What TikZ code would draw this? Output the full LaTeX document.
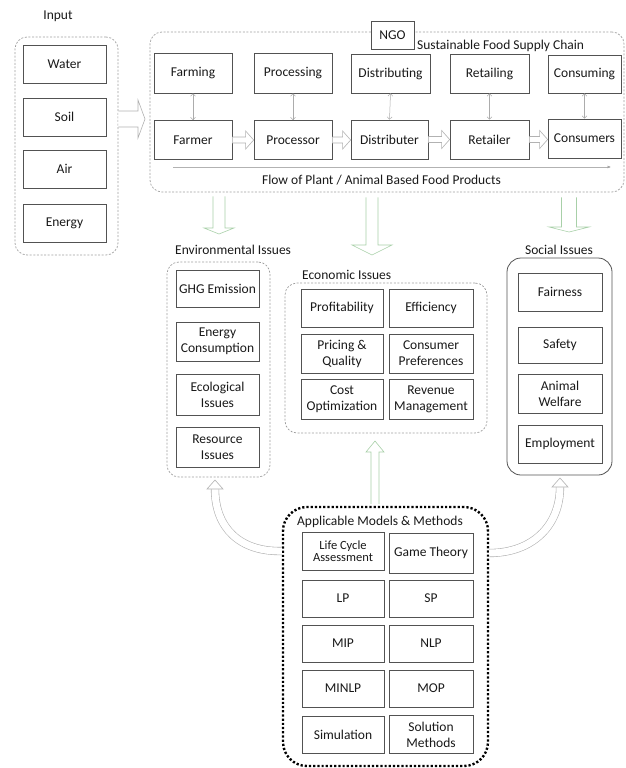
\documentclass[tikz,border=0pt]{standalone}
\usepackage{fontspec}
\setmainfont{Carlito}
\usetikzlibrary{calc,arrows.meta}

\definecolor{boxline}{gray}{0.32}
\definecolor{cont}{gray}{0.62}
\definecolor{hollowline}{gray}{0.70}
\definecolor{greenline}{RGB}{168,208,168}

% straight block arrow: style, tail, tip, shaft half width, head half width, signed offset of head base (along the arrow axis)
\newcommand\vblock[6]{%
  \draw[#1] ($(#2)+(-#4,0)$) -- ($(#3)+(-#4,#6)$) -- ($(#3)+(-#5,#6)$) -- (#3)
    -- ($(#3)+(#5,#6)$) -- ($(#3)+(#4,#6)$) -- ($(#2)+(#4,0)$);}
\newcommand\hblock[6]{%
  \draw[#1] ($(#2)+(0,-#4)$) -- ($(#3)+(#6,-#4)$) -- ($(#3)+(#6,-#5)$) -- (#3)
    -- ($(#3)+(#6,#5)$) -- ($(#3)+(#6,#4)$) -- ($(#2)+(0,#4)$);}

\tikzset{
  every node/.style={font=\fontsize{13.5}{16}\selectfont, text=black!90},
  item/.style={draw=boxline, line width=0.7pt, fill=white, inner sep=0pt, align=center,
    minimum width=83pt, minimum height=38pt},
  container/.style={draw=cont, dash pattern=on 2pt off 1.6pt, line width=0.7pt,
    rounded corners=12pt, inner sep=0pt},
  solidcont/.style={draw=boxline, line width=0.8pt, rounded corners=14pt, inner sep=0pt},
  dotcont/.style={draw=black, line width=2.4pt, dash pattern=on 2.2pt off 2pt,
    rounded corners=24pt, inner sep=0pt},
  heading/.style={inner sep=0pt},
  hollow/.style={draw=hollowline, fill=white, line width=0.6pt},
  greenhollow/.style={hollow, draw=greenline},
  link/.style={draw=gray!65, line width=0.5pt,
    {Straight Barb[length=2.5pt,width=5pt]}-{Straight Barb[length=2.5pt,width=5pt]}},
  curvearrow/.style={draw=hollowline, line width=0.6pt, double=white, double distance=7pt},
}

\begin{document}
\begin{tikzpicture}[x=1pt, y=-1pt]
\useasboundingbox (0,0) rectangle (626,768);

% ---------------- input ----------------
\node[heading] (inlabel) at (58,16) {Input};
\node[container, minimum width=103pt, minimum height=218pt] (input) at (66.5,146) {};
\node[item] (water)  at (64.5,64.5) {Water};
\node[item] (soil)   at (64.5,117) {Soil};
\node[item] (air)    at (64.5,169) {Air};
\node[item] (energy) at (64.5,223) {Energy};

% ---------------- supply chain ----------------
\node[container, minimum width=474pt, minimum height=160pt] (chain) at (387,112) {};
\node[item, minimum width=43pt, minimum height=28pt] (ngo) at (392.5,35) {NGO};
\node[heading, anchor=west] (chainlabel) at (417,46) {Sustainable Food Supply Chain};

\node[item, minimum width=78pt, minimum height=40pt] (farming)      at (193,73)   {Farming};
\node[item, minimum width=78pt, minimum height=40pt] (processing)   at (293,73)   {Processing};
\node[item, minimum width=79pt, minimum height=39pt] (distributing) at (390.5,73.5) {Distributing};
\node[item, minimum width=79pt, minimum height=39pt] (retailing)    at (489.5,73.5) {Retailing};
\node[item, minimum width=73pt, minimum height=38pt] (consuming)    at (584.5,74) {Consuming};

\node[item, minimum width=78pt, minimum height=39pt] (farmer)      at (193,140)   {Farmer};
\node[item, minimum width=78pt, minimum height=39pt] (processor)   at (293,140)   {Processor};
\node[item, minimum width=77pt, minimum height=39pt] (distributer) at (389.5,139.5) {Distributer};
\node[item, minimum width=79pt, minimum height=39pt] (retailer)    at (489.5,139.5) {Retailer};
\node[item, minimum width=73pt, minimum height=39pt] (consumers)   at (584.5,138.5) {Consumers};

\foreach \a/\b in {farming/farmer, processing/processor, distributing/distributer,
                   retailing/retailer, consuming/consumers}
  \draw[link] (\a.south) -- (\b.north);

\foreach \a/\b in {farmer/processor, processor/distributer, distributer/retailer, retailer/consumers}
  \hblock{hollow}{\a.east}{\b.west |- \a.east}{3}{9}{-8};

\coordinate (flowstart) at (173,167);
\coordinate (flowend) at (611,167);
\draw[draw=gray!60, line width=0.5pt, -{Latex[length=3.5pt,width=3pt,fill=black!70]}] (flowstart) -- (flowend);
\node[heading] (flowlabel) at (381.5,180) {Flow of Plant / Animal Based Food Products};

% input feeds the chain
\coordinate (intip) at (145,119);
\hblock{hollow}{input.east |- intip}{intip}{8}{19}{-7}

% ---------------- issue groups ----------------
\node[heading, anchor=west] (envlabel) at (175,250) {Environmental Issues};
\node[container, minimum width=103pt, minimum height=215pt] (env) at (218.5,369.5) {};
\node[item, minimum height=37pt] (ghg)      at (217.5,288.5) {GHG Emission};
\node[item, minimum height=39pt] (econs)    at (217.5,341.5) {Energy\\Consumption};
\node[item, minimum height=41pt] (ecol)     at (217.5,394.5) {Ecological\\Issues};
\node[item, minimum height=40pt] (resource) at (217.5,447)   {Resource\\Issues};

\node[heading, anchor=west] (econlabel) at (302,275) {Economic Issues};
\node[container, minimum width=202pt, minimum height=150pt] (econ) at (386,358) {};
\node[item, minimum width=82pt] (profit)  at (342,308)   {Profitability};
\node[item, minimum width=84pt] (effic)   at (431,308)   {Efficiency};
\node[item, minimum width=82pt, minimum height=39pt] (pricing) at (342,353.5) {Pricing \&\\Quality};
\node[item, minimum width=84pt, minimum height=39pt] (prefs)   at (431,353.5) {Consumer\\Preferences};
\node[item, minimum width=82pt, minimum height=40pt] (cost)    at (342,399)   {Cost\\Optimization};
\node[item, minimum width=84pt, minimum height=40pt] (revenue) at (431,399)   {Revenue\\Management};

\node[heading] (soclabel) at (559,250) {Social Issues};
\node[solidcont, minimum width=105pt, minimum height=217pt] (social) at (559.5,366.5) {};
\node[item, minimum width=84pt] (fair)   at (560,292)   {Fairness};
\node[item, minimum width=84pt, minimum height=36pt] (safety) at (560,345)   {Safety};
\node[item, minimum width=84pt, minimum height=39pt] (animal) at (560,393.5) {Animal\\Welfare};
\node[item, minimum width=84pt] (employ) at (560,444)   {Employment};

% chain results flow down to the issue groups
\coordinate (envtip)  at (219,234);
\coordinate (econtip) at (372,255);
\coordinate (soctip)  at (569,232);
\coordinate (envtail)  at ($(chain.south -| envtip)+(0,4)$);
\coordinate (econtail) at ($(chain.south -| econtip)+(0,5)$);
\coordinate (soctail)  at ($(chain.south -| soctip)+(0,5)$);
\vblock{greenhollow}{envtail}{envtip}{6}{15}{-6}
\vblock{greenhollow}{econtail}{econtip}{6}{20}{-10}
\vblock{greenhollow}{soctail}{soctip}{7.5}{20}{-5}

% ---------------- models and methods ----------------
\node[dotcont, minimum width=205pt, minimum height=259pt] (models) at (385.5,636.5) {};
\node[heading] (modlabel) at (380,522) {Applicable Models \& Methods};
\node[item, minimum width=82pt, minimum height=38pt, font=\fontsize{12.5}{12}\selectfont] (lca) at (343,551) {Life Cycle\\Assessment};
\node[item, minimum width=84pt, minimum height=40pt] (game) at (431,553) {Game Theory};
\node[item, minimum width=82pt, minimum height=37pt] (lp)    at (343,598.5) {LP};
\node[item, minimum width=84pt, minimum height=37pt] (sp)    at (431,598.5) {SP};
\node[item, minimum width=82pt, minimum height=37pt] (mip)   at (343,643.5) {MIP};
\node[item, minimum width=84pt, minimum height=37pt] (nlp)   at (431,643.5) {NLP};
\node[item, minimum width=82pt, minimum height=37pt] (minlp) at (343,688.5) {MINLP};
\node[item, minimum width=84pt, minimum height=37pt] (mop)   at (431,688.5) {MOP};
\node[item, minimum width=82pt, minimum height=37pt] (sim)   at (343,734.5) {Simulation};
\node[item, minimum width=84pt, minimum height=38pt] (solm)  at (431,734.5) {Solution\\Methods};

% models support the economic issues
\coordinate (uptip)  at (375,441);
\coordinate (uptail) at ($(models.north -| uptip)+(0,-2)$);
\vblock{greenhollow}{uptail}{uptip}{4}{9}{11}

% models support environmental and social issues
\coordinate (envhead) at (215,489);
\coordinate (envarrow) at (215,480);
\coordinate (sochead) at (560,487);
\coordinate (socarrow) at (560,478);
\draw[curvearrow] (models.west |- lca) .. controls (240,552) and (215,528) .. (envhead);
\draw[hollow] ($(envhead)+(-8,0)$) -- (envarrow) -- ($(envhead)+(8,0)$) -- cycle;
\draw[curvearrow] (models.east |- game) .. controls (532,553) and (560,526) .. (sochead);
\draw[hollow] ($(sochead)+(-8,0)$) -- (socarrow) -- ($(sochead)+(8,0)$) -- cycle;
\end{tikzpicture}
\end{document}
